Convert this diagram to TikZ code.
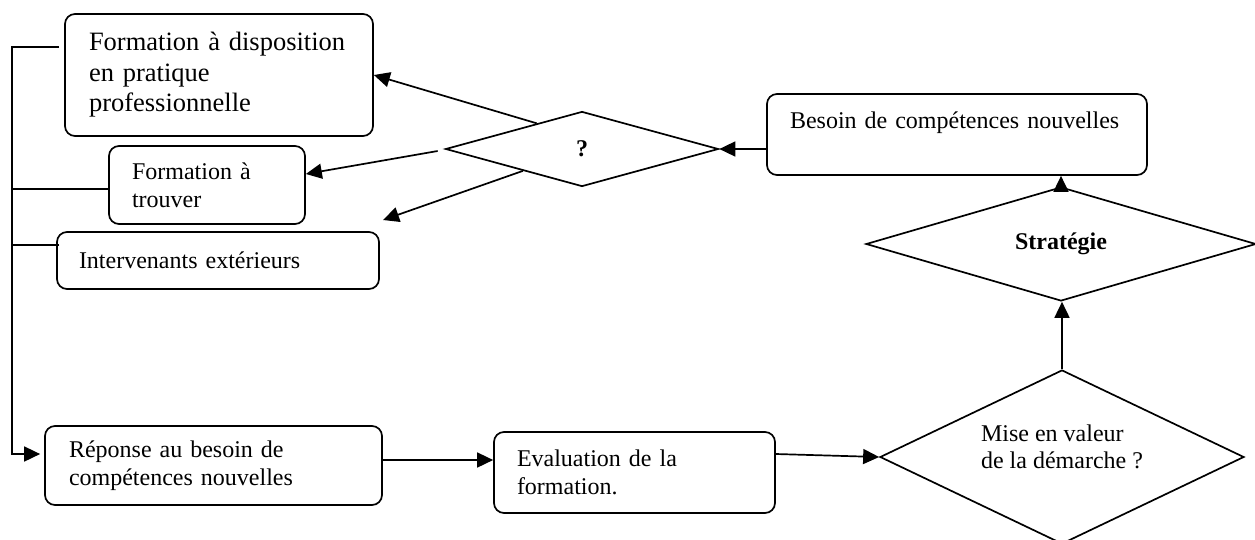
\documentclass[tikz,border=0pt]{standalone}
\usepackage{fontspec}
\setmainfont{Liberation Serif}
\usetikzlibrary{arrows.meta,shapes.geometric,calc}
\begin{document}
\begin{tikzpicture}[x=1pt,y=-1pt,
  ln/.style={line width=1.7pt},
  arr/.style={ln, -{Triangle[length=16pt,width=15pt]}},
  box/.style={draw, ln, rounded corners=10pt, align=left, inner ysep=0pt, font=\fontsize{24}{28}\selectfont},
  dia/.style={draw, ln, diamond, inner sep=0pt, font=\fontsize{24}{28}\selectfont},
  txt/.style={align=left, inner sep=0pt, font=\fontsize{24}{27.5}\selectfont}
]
\useasboundingbox (0,0) rectangle (1255,539);

\node[box, inner xsep=24pt, text width=260pt, minimum height=122pt, font=\fontsize{26.5}{30.5}\selectfont] (b1) at (219,75) {Formation à disposition\\en pratique\\professionnelle};
\node[box, inner xsep=23pt, text width=150pt, minimum height=78pt] (b2) at (207,185) {Formation à\\trouver};
\node[box, inner xsep=22pt, text width=278pt, minimum height=57pt] (b3) at (218,260.5) {Intervenants extérieurs};
\node[box, inner xsep=24pt, text width=289pt, minimum height=79pt] (b4) at (213.5,465.5) {Réponse au besoin de\\compétences nouvelles};
\node[box, inner xsep=23pt, text width=235pt, minimum height=81pt] (b5) at (634.5,472.5) {Evaluation de la\\formation.};
\node[box, inner xsep=23pt, text width=334pt, minimum height=81pt] (bes) at (957,134.5) {Besoin de compétences nouvelles\\\mbox{}};

\node[dia, minimum width=273pt, minimum height=75pt, font=\bfseries\fontsize{24}{28}\selectfont] (q) at (582,149) {?};
\node[dia, minimum width=390pt, minimum height=80pt, font=\bfseries\fontsize{24}{28}\selectfont] (strat) at (1061,244) {Stratégie};
\node[dia, minimum width=364pt, minimum height=174pt] (mise) at (1062,457) {};
\node[txt] (mtxt) at (1062,446.6) {Mise en valeur\\de la démarche ?};

\coordinate (t0) at (12,47);
\coordinate (j2) at (12,189);
\coordinate (j3) at (12,245);
\coordinate (tb) at (12,454);
\coordinate (a3end) at (383,220);
\coordinate (e4) at ($(b4.east)+(0,-5.5)$);
\coordinate (e5) at ($(b5.east)+(0,-18.5)$);

\draw[arr, shorten >=4pt] ($(b1.west |- t0)+(-5,0)$) -- (t0) -- (tb) -- (b4.west |- tb);
\draw[ln] (b2.west |- j2) -- (j2);
\draw[ln] ($(b3.west |- j3)+(3,0)$) -- (j3);

\draw[arr] ($(q.west)!0.67!(q.north)$) -- (b1.east);
\draw[arr] ($(q.west)+(-7,2)$) -- ($(b2.east)+(0,-11)$);
\draw[arr] ($(q.west)!0.57!(q.south)$) -- (a3end);
\draw[arr] (bes.west |- q.east) -- (q.east);
\draw[arr] (strat.north) -- (strat.north |- bes.south);
\draw[arr] (mise.north) -- (mise.north |- strat.south);
\draw[arr] (e4) -- (e4 -| b5.west);
\draw[arr] (e5) -- (mise.west);
\end{tikzpicture}
\end{document}
